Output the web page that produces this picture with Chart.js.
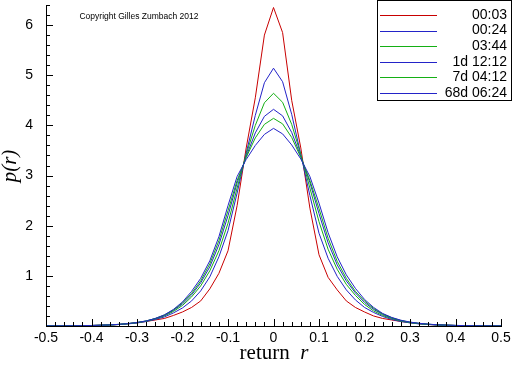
<!DOCTYPE html>
<html>
<head>
<meta charset="utf-8">
<script src="https://cdn.jsdelivr.net/npm/chart.js@4.4.1/dist/chart.umd.min.js"></script>
<style>
html, body { margin: 0; padding: 0; background: #fff; }
#wrap { width: 512px; height: 366px; position: relative; }
</style>
</head>
<body>
<div id="wrap"><canvas id="chart"></canvas></div>
<script>
// return bins
const returns = [-0.5, -0.48, -0.46, -0.44, -0.42, -0.4, -0.38, -0.36, -0.34, -0.32, -0.3, -0.28, -0.26, -0.24, -0.22, -0.2, -0.18, -0.16, -0.14, -0.12, -0.1, -0.08, -0.06, -0.04, -0.02,
    0,
    0.02, 0.04, 0.06, 0.08, 0.1, 0.12, 0.14, 0.16, 0.18, 0.2, 0.22, 0.24, 0.26, 0.28, 0.3, 0.32, 0.34, 0.36, 0.38, 0.4, 0.42, 0.44, 0.46, 0.48, 0.5];

const seriesLabels = ['00:03', '00:24', '03:44', '1d 12:12', '7d 04:12', '68d 06:24'];

const p0003 = [0.003, 0.004, 0.005, 0.006, 0.008, 0.01, 0.015, 0.02, 0.03, 0.045, 0.065, 0.09, 0.12, 0.15, 0.21, 0.28, 0.37, 0.5, 0.74, 1.05, 1.5, 2.4, 3.55, 4.55, 5.8,
    6.35,
    5.85, 4.5, 3.55, 2.35, 1.42, 0.97, 0.72, 0.5, 0.37, 0.28, 0.2, 0.15, 0.12, 0.09, 0.065, 0.045, 0.03, 0.02, 0.015, 0.01, 0.008, 0.006, 0.005, 0.004, 0.003];
const p0024 = [0.002, 0.003, 0.004, 0.005, 0.007, 0.01, 0.014, 0.02, 0.03, 0.042, 0.06, 0.09, 0.13, 0.18, 0.26, 0.36, 0.5, 0.7, 0.98, 1.38, 1.9, 2.65, 3.45, 4.2, 4.85,
    5.14,
    4.87, 4.22, 3.42, 2.6, 1.85, 1.35, 0.99, 0.72, 0.52, 0.37, 0.27, 0.19, 0.13, 0.09, 0.062, 0.042, 0.03, 0.02, 0.014, 0.01, 0.007, 0.005, 0.004, 0.003, 0.002];
const p0344 = [0.002, 0.003, 0.004, 0.005, 0.007, 0.01, 0.014, 0.02, 0.03, 0.045, 0.065, 0.095, 0.14, 0.2, 0.29, 0.41, 0.58, 0.8, 1.1, 1.5, 2.05, 2.75, 3.42, 4.0, 4.45,
    4.64,
    4.46, 4.02, 3.42, 2.75, 2.08, 1.53, 1.13, 0.83, 0.61, 0.43, 0.3, 0.21, 0.145, 0.1, 0.068, 0.046, 0.032, 0.022, 0.015, 0.01, 0.007, 0.005, 0.004, 0.003, 0.002];
const p1d1212 = [0.002, 0.003, 0.004, 0.005, 0.007, 0.01, 0.015, 0.022, 0.032, 0.047, 0.068, 0.1, 0.145, 0.21, 0.31, 0.44, 0.62, 0.86, 1.18, 1.62, 2.2, 2.85, 3.38, 3.85, 4.18,
    4.32,
    4.19, 3.86, 3.38, 2.86, 2.24, 1.66, 1.22, 0.9, 0.66, 0.47, 0.33, 0.23, 0.155, 0.105, 0.072, 0.05, 0.034, 0.023, 0.016, 0.011, 0.008, 0.005, 0.004, 0.003, 0.002];
const p7d0412 = [0.002, 0.003, 0.004, 0.005, 0.007, 0.01, 0.015, 0.022, 0.033, 0.048, 0.07, 0.1, 0.15, 0.22, 0.32, 0.46, 0.65, 0.9, 1.24, 1.7, 2.3, 2.9, 3.36, 3.75, 4.02,
    4.14,
    4.03, 3.76, 3.36, 2.9, 2.34, 1.75, 1.29, 0.95, 0.69, 0.5, 0.35, 0.24, 0.165, 0.11, 0.075, 0.052, 0.035, 0.024, 0.016, 0.011, 0.008, 0.005, 0.004, 0.003, 0.002];
const p68d0624 = [0.002, 0.003, 0.004, 0.005, 0.007, 0.01, 0.015, 0.022, 0.033, 0.048, 0.07, 0.1, 0.15, 0.22, 0.33, 0.48, 0.69, 0.95, 1.3, 1.78, 2.4, 2.98, 3.32, 3.6, 3.82,
    3.94,
    3.83, 3.61, 3.33, 2.98, 2.45, 1.86, 1.38, 1.02, 0.75, 0.53, 0.37, 0.25, 0.17, 0.115, 0.078, 0.054, 0.037, 0.025, 0.017, 0.012, 0.008, 0.006, 0.004, 0.003, 0.002];

const xTickLabels = ['-0.5', '-0.4', '-0.3', '-0.2', '-0.1', '0', '0.1', '0.2', '0.3', '0.4', '0.5'];
const yTickLabels = ['1', '2', '3', '4', '5', '6'];

const RED = 'rgb(200,0,0)';
const BLUE = 'rgb(35,35,200)';
const GREEN = 'rgb(20,175,20)';
const seriesColors = [RED, BLUE, GREEN, BLUE, GREEN, BLUE];
const seriesValues = [p0003, p0024, p0344, p1d1212, p7d0412, p68d0624];

function toPoints(vals) {
    return returns.map((r, i) => ({x: r, y: vals[i]}));
}

const datasets = seriesValues.map((vals, i) => ({
    label: seriesLabels[i],
    data: toPoints(vals),
    borderColor: seriesColors[i],
    backgroundColor: seriesColors[i],
    borderWidth: 1,
    pointRadius: 0,
    tension: 0,
    fill: false,
    order: seriesValues.length - i
}));

// inward tick marks, major + minor
const tickMarks = {
    id: 'tickMarks',
    afterDraw(chart) {
        const ctx = chart.ctx;
        const x = chart.scales.x, y = chart.scales.y;
        const area = chart.chartArea;
        ctx.save();
        ctx.strokeStyle = '#000';
        ctx.lineWidth = 1;
        ctx.beginPath();
        for (let k = 0; k <= 50; k++) {
            const v = -0.5 + k * 0.02;
            const px = Math.round(x.getPixelForValue(v)) + 0.5;
            const len = (k % 5 === 0) ? 7 : 4;
            ctx.moveTo(px, area.bottom);
            ctx.lineTo(px, area.bottom - len);
        }
        for (let k = 1; k <= 32; k++) {
            const v = k * 0.2;
            const py = Math.round(y.getPixelForValue(v)) + 0.5;
            const len = (k % 5 === 0) ? 7 : 4;
            ctx.moveTo(area.left, py);
            ctx.lineTo(area.left + len, py);
        }
        ctx.stroke();
        ctx.restore();
    }
};

// axis titles, copyright note, boxed legend
const annotations = {
    id: 'annotations',
    afterDraw(chart) {
        const ctx = chart.ctx;
        ctx.save();
        ctx.fillStyle = '#000';

        // x title: "return r"
        ctx.textBaseline = 'alphabetic';
        ctx.textAlign = 'left';
        ctx.font = '21px "Liberation Serif"';
        const w1 = ctx.measureText('return ').width;
        ctx.font = 'italic 21px "Liberation Serif"';
        const w2 = ctx.measureText(' r').width;
        const x0 = 274 - (w1 + w2) / 2;
        ctx.font = '21px "Liberation Serif"';
        ctx.fillText('return ', x0, 359);
        ctx.font = 'italic 21px "Liberation Serif"';
        ctx.fillText(' r', x0 + w1, 359);

        // y title: "p(r)"
        ctx.translate(16, 166);
        ctx.rotate(-Math.PI / 2);
        ctx.textAlign = 'center';
        ctx.font = 'italic 21px "Liberation Serif"';
        ctx.fillText('p(r)', 0, 0);
        ctx.setTransform(1, 0, 0, 1, 0, 0);

        // copyright
        ctx.textAlign = 'center';
        ctx.font = '8.5px "Liberation Sans"';
        ctx.fillText('Copyright Gilles Zumbach 2012', 139, 19);

        // legend box
        ctx.fillStyle = '#fff';
        ctx.fillRect(377, 0, 134, 101);
        ctx.strokeStyle = '#000';
        ctx.lineWidth = 1;
        ctx.strokeRect(377.5, 0.5, 134, 100);
        ctx.font = '14px "Liberation Sans"';
        ctx.textAlign = 'right';
        ctx.textBaseline = 'middle';
        chart.data.datasets.forEach((ds, i) => {
            const yy = 15 + i * 15.6;
            ctx.strokeStyle = ds.borderColor;
            ctx.beginPath();
            ctx.moveTo(380, Math.round(yy) + 0.5);
            ctx.lineTo(437, Math.round(yy) + 0.5);
            ctx.stroke();
            ctx.fillStyle = '#000';
            ctx.fillText(ds.label, 507, yy);
        });
        ctx.restore();
    }
};

const config = {
    type: 'line',
    data: { datasets: datasets },
    options: {
        responsive: true,
        maintainAspectRatio: false,
        animation: false,
        layout: { padding: { top: 5, right: 11, left: 0, bottom: 0 } },
        plugins: {
            legend: { display: false },
            tooltip: { enabled: false }
        },
        scales: {
            x: {
                type: 'linear',
                min: -0.5,
                max: 0.5,
                grid: { display: false },
                border: { display: true, color: '#000', width: 1 },
                afterBuildTicks: (s) => { s.ticks = xTickLabels.map(l => ({value: parseFloat(l)})); },
                ticks: {
                    autoSkip: false,
                    maxRotation: 0,
                    padding: -4,
                    color: '#000',
                    font: { family: '"Liberation Sans"', size: 14 },
                    callback: (v, i) => xTickLabels[i]
                },
                afterFit: (s) => { s.height = 40; s.paddingLeft = 0; s.paddingRight = 0; }
            },
            y: {
                min: 0,
                max: 6.4,
                grid: { display: false },
                border: { display: true, color: '#000', width: 1 },
                afterBuildTicks: (s) => { s.ticks = yTickLabels.map(l => ({value: parseFloat(l)})); },
                ticks: {
                    autoSkip: false,
                    padding: 5,
                    color: '#000',
                    font: { family: '"Liberation Sans"', size: 14 },
                    callback: (v, i) => yTickLabels[i]
                },
                afterFit: (s) => { s.width = 46; s.paddingTop = 0; s.paddingBottom = 0; }
            }
        }
    },
    plugins: [tickMarks, annotations]
};

const myChart = new Chart(document.getElementById('chart'), config);
</script>
</body>
</html>
